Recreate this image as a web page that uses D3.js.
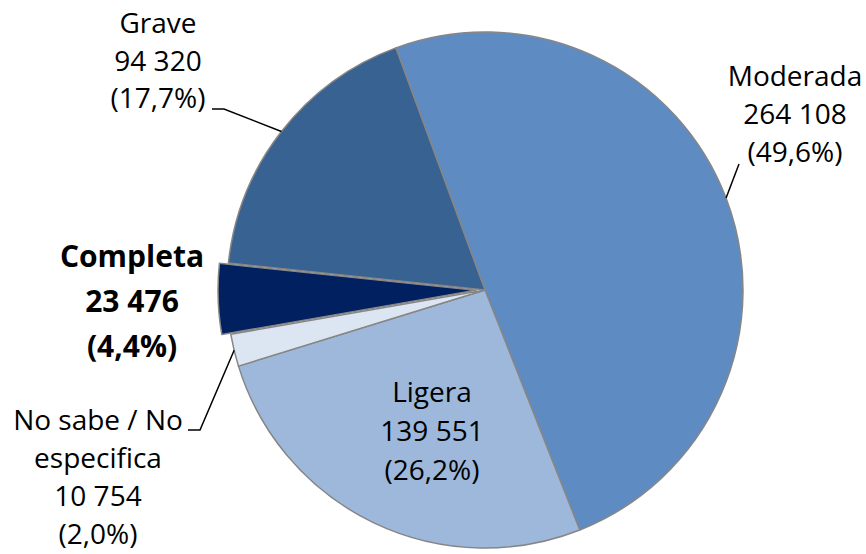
<!DOCTYPE html>
<html>
<head>
<meta charset="utf-8">
<script src="https://cdn.jsdelivr.net/npm/d3@7"></script>
<style>
  body { margin: 0; background: #fff; }
  text { font-family: 'Open Sans', sans-serif; fill: #000; }
</style>
</head>
<body>
<div id="root"></div>
<script>
// data, clockwise from the Grave/Moderada border
const categories = ['Moderada', 'Ligera', 'No sabe / No especifica', 'Completa', 'Grave'];
const values = [264108, 139551, 10754, 23476, 94320];
const colors = ['#5f8bc3', '#9db8db', '#dce6f2', '#002060', '#386291'];
const exploded = ['Completa'];

const w = 866, h = 554;
const cx = 485, cy = 290, r = 258;
const startDeg = -20.2;

// label layout: anchor x, first baseline y, line height, lines of category, bold, leader path points before the arc
const labelLayout = {
  'Moderada': { x: 795, y: 86, lh: 38, lines: ['Moderada'], size: 28, leader: [[739, 164]] },
  'Ligera': { x: 432, y: 402, lh: 39, lines: ['Ligera'], size: 28, leader: null },
  'No sabe / No especifica': { x: 98, y: 430, lh: 38, lines: ['No sabe / No', 'especifica'], size: 28, leader: [[188, 430], [200, 430]] },
  'Completa': { x: 132, y: 267, lh: 45, lines: ['Completa'], size: 30, bold: true, leader: null },
  'Grave': { x: 158, y: 33, lh: 37.5, lines: ['Grave'], size: 28, leader: [[212, 109], [224, 109]] }
};

const loc = d3.formatLocale({ decimal: ',', thousands: '\u00a0', grouping: [3], currency: ['', ''] });
const fmtNum = loc.format(',d');
const fmtPct = loc.format('.1%');

const svg = d3.select('#root').append('svg')
  .attr('width', w)
  .attr('height', h);

const total = d3.sum(values);
const start = startDeg * Math.PI / 180;

const pie = d3.pie()
  .sort(null)
  .startAngle(start)
  .endAngle(start + 2 * Math.PI);

const arcs = pie(values);
const arc = d3.arc().innerRadius(0).outerRadius(r);
const edge = d3.arc().innerRadius(r).outerRadius(r);

const g = svg.append('g').attr('transform', `translate(${cx},${cy})`);

g.selectAll('path.slice')
  .data(arcs)
  .enter()
  .append('path')
  .attr('class', 'slice')
  .attr('d', arc)
  .attr('fill', (d, i) => colors[i])
  .attr('stroke', '#868686')
  .attr('stroke-width', 1.5)
  .attr('stroke-linejoin', 'round')
  .attr('transform', (d, i) => {
    if (exploded.indexOf(categories[i]) < 0) return null;
    const a = (d.startAngle + d.endAngle) / 2;
    return `translate(${Math.sin(a) * 9},${-Math.cos(a) * 9})`;
  });

// leaders
arcs.forEach((d, i) => {
  const lay = labelLayout[categories[i]];
  if (!lay.leader) return;
  const p = edge.centroid(d);
  const pts = lay.leader.concat([[p[0] + cx, p[1] + cy]]);
  svg.append('path')
    .attr('d', d3.line()(pts))
    .attr('fill', 'none')
    .attr('stroke', '#000')
    .attr('stroke-width', 1.5);
});

// labels
arcs.forEach((d, i) => {
  const lay = labelLayout[categories[i]];
  const lines = lay.lines.concat([fmtNum(values[i]), '(' + fmtPct(values[i] / total) + ')']);
  const t = svg.append('text')
    .attr('text-anchor', 'middle')
    .attr('font-size', lay.size)
    .attr('font-weight', lay.bold ? 'bold' : 'normal');
  lines.forEach((s, k) => {
    t.append('tspan')
      .attr('x', lay.x)
      .attr('y', lay.y + k * lay.lh)
      .text(s);
  });
});
</script>
</body>
</html>
